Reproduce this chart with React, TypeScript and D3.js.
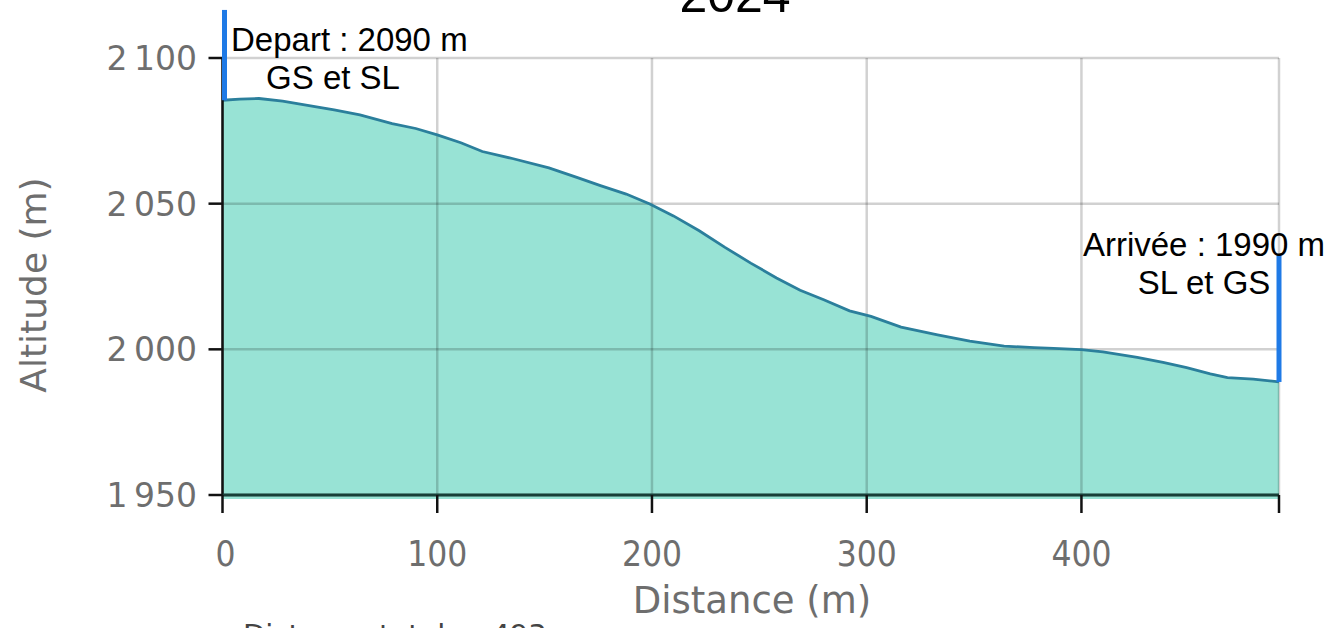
import React from "react";
import * as d3 from "d3";

const distances = [0, 8, 17, 28, 41, 52, 64, 79, 90, 100, 111, 121, 135, 152, 165, 176, 188, 199, 210, 222, 234, 246, 258, 269, 280, 292, 302, 316, 333, 348, 364, 378, 387, 400, 410, 426, 438, 449, 460, 468, 480, 492];
const altitudes = [2085.5, 2085.9, 2086.1, 2085.2, 2083.6, 2082.2, 2080.5, 2077.5, 2075.8, 2073.6, 2070.9, 2067.9, 2065.5, 2062.3, 2059.0, 2056.2, 2053.3, 2049.9, 2045.8, 2040.7, 2035.0, 2029.6, 2024.5, 2020.3, 2017.0, 2013.2, 2011.3, 2007.6, 2005.0, 2002.8, 2001.1, 2000.6, 2000.3, 1999.9, 1999.1, 1997.2, 1995.5, 1993.7, 1991.6, 1990.3, 1989.8, 1988.8];

const xTicks = [0, 100, 200, 300, 400];
const xTickLabels = ["0", "100", "200", "300", "400"];
const yTicks = [1950, 2000, 2050, 2100];
const yTickLabels = ["1\u2009950", "2\u2009000", "2\u2009050", "2\u2009100"];

const titleText = "2024";
const xAxisTitle = "Distance (m)";
const yAxisTitle = "Altitude (m)";
const footerText = "Distance totale : 493 m";
const startLabel = ["Depart : 2090 m", "GS et SL"];
const endLabel = ["Arrivée : 1990 m", "SL et GS"];
const startMarker = [2085.5, 2116.5];
const endMarker = [1988.8, 2032.5];

const W = 1343;
const H = 628;
const M = { left: 222.5, right: 1279, top: 58, bottom: 495 };

export default function App() {
  const x = d3.scaleLinear().domain([0, 492]).range([M.left, M.right]);
  const y = d3.scaleLinear().domain([1950, 2100]).range([M.bottom, M.top]);
  const pts = distances.map((d, i) => [d, altitudes[i]] as [number, number]);
  const area = d3.area<[number, number]>().x((d) => x(d[0])).y0(y(1950) + 4).y1((d) => y(d[1]));
  const line = d3.line<[number, number]>().x((d) => x(d[0])).y((d) => y(d[1]));
  const vGrid = [...xTicks, 492];
  const sans = "'DejaVu Sans', Verdana, sans-serif";
  const cond = "'DejaVu Sans Condensed', 'DejaVu Sans', sans-serif";
  const helv = "'Liberation Sans', Arial, Helvetica, sans-serif";
  const gray = "#6e6e6e";

  return (
    <svg width={W} height={H} style={{ position: "absolute", left: 0, top: 0, display: "block", background: "#fff" }}>
      <text x={735} y={12} textAnchor="middle" fontFamily={helv} fontSize={50} fill="#000">{titleText}</text>

      <path d={area(pts) || ""} fill="#98e3d5" />

      {yTicks.map((t) => (
        <line key={"gy" + t} x1={M.left} x2={M.right} y1={y(t)} y2={y(t)} stroke="rgba(0,0,0,0.18)" strokeWidth={2.5} />
      ))}
      {vGrid.map((t) => (
        <line key={"gx" + t} x1={x(t)} x2={x(t)} y1={M.top} y2={M.bottom} stroke="rgba(0,0,0,0.18)" strokeWidth={2.5} />
      ))}

      <path d={line(pts) || ""} fill="none" stroke="#2b7f9c" strokeWidth={2.8} />

      <line x1={M.left} x2={M.left} y1={M.top} y2={M.bottom + 1} stroke="#111" strokeWidth={2.5} />
      <line x1={M.left} x2={M.right} y1={M.bottom} y2={M.bottom} stroke="#183f38" strokeWidth={3} />

      {yTicks.map((t, i) => (
        <g key={"ty" + t}>
          <line x1={M.left - 14} x2={M.left} y1={y(t)} y2={y(t)} stroke="#111" strokeWidth={2.5} />
          <text x={197} y={y(t)} dy="0.36em" textAnchor="end" fontFamily={sans} fontSize={33} fill={gray}>{yTickLabels[i]}</text>
        </g>
      ))}
      {vGrid.map((t) => (
        <line key={"tx" + t} x1={x(t)} x2={x(t)} y1={M.bottom} y2={M.bottom + 18} stroke="#111" strokeWidth={2.5} />
      ))}
      {xTicks.map((t, i) => (
        <text key={"lx" + t} x={x(t) + (t === 0 ? 3 : 0)} y={566} textAnchor="middle" fontFamily={cond} fontSize={35} fill={gray}>{xTickLabels[i]}</text>
      ))}

      <text x={752} y={613} textAnchor="middle" fontFamily={sans} fontSize={37} fill={gray}>{xAxisTitle}</text>
      <text transform={`translate(46,${285}) rotate(-90)`} textAnchor="middle" fontFamily={sans} fontSize={36} fill={gray}>{yAxisTitle}</text>
      <text x={243} y={645} fontFamily={sans} fontSize={29} fill="#444">{footerText}</text>

      <line x1={x(0) + 2} x2={x(0) + 2} y1={y(startMarker[0])} y2={y(startMarker[1])} stroke="#1f7ae6" strokeWidth={5} />
      <line x1={x(492)} x2={x(492)} y1={y(endMarker[0])} y2={y(endMarker[1])} stroke="#1f7ae6" strokeWidth={5} />

      <text x={231} y={51} fontFamily={helv} fontSize={33} fill="#000">{startLabel[0]}</text>
      <text x={333} y={89} textAnchor="middle" fontFamily={helv} fontSize={33} fill="#000">{startLabel[1]}</text>
      <text x={1204} y={256} textAnchor="middle" fontFamily={helv} fontSize={33} fill="#000">{endLabel[0]}</text>
      <text x={1204} y={294} textAnchor="middle" fontFamily={helv} fontSize={33} fill="#000">{endLabel[1]}</text>
    </svg>
  );
}
